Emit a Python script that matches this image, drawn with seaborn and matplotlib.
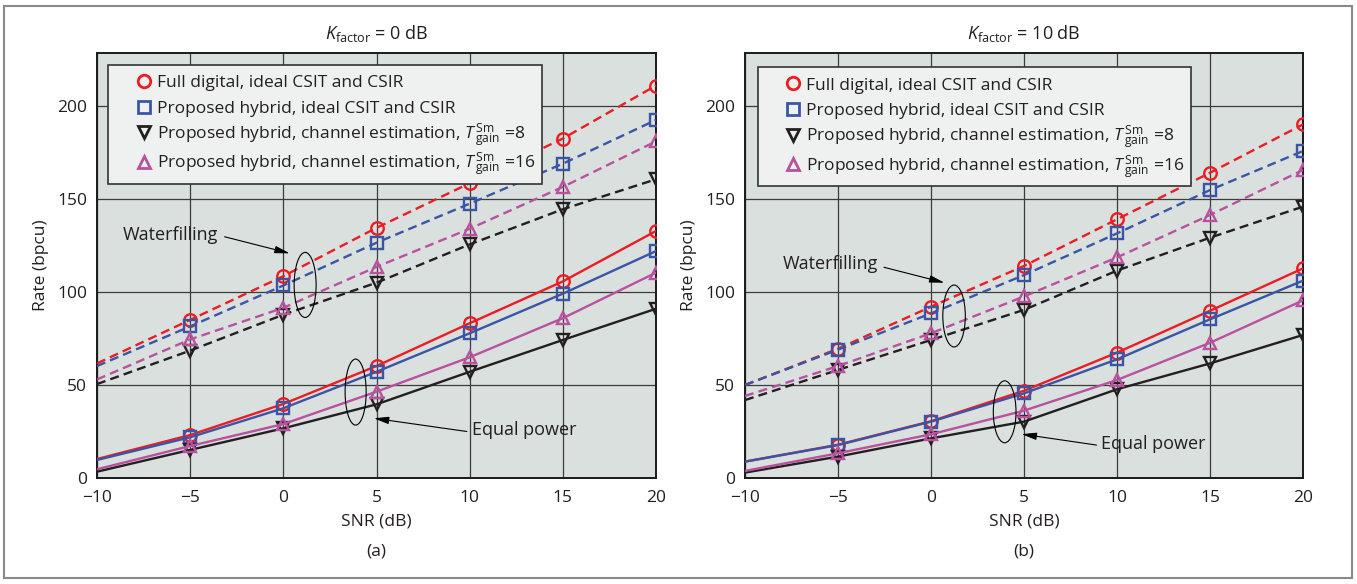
import numpy as np
import pandas as pd
import seaborn as sns
import matplotlib
matplotlib.use("Agg")
import matplotlib.pyplot as plt
from matplotlib.lines import Line2D
from matplotlib.patches import Ellipse, Rectangle
from matplotlib.legend_handler import HandlerBase

# ---------------- data ----------------
snr = [-10, -5, 0, 5, 10, 15, 20]

# K_factor = 0 dB
k0_wf_full = [61.6, 85.0, 108.5, 134.5, 158.5, 182.5, 211.0]
k0_wf_hyb = [60.2, 81.5, 103.5, 126.5, 147.5, 169.0, 192.5]
k0_wf_t8 = [50.5, 68.5, 87.8, 105.0, 125.6, 144.5, 160.6]
k0_wf_t16 = [53.0, 74.5, 91.5, 113.5, 134.0, 156.5, 181.0]
k0_ep_full = [10.2, 23.1, 39.8, 60.2, 83.2, 105.7, 132.8]
k0_ep_hyb = [9.7, 21.9, 37.5, 57.1, 77.8, 99.1, 122.0]
k0_ep_t8 = [3.4, 15.1, 26.7, 39.6, 57.1, 74.2, 91.0]
k0_ep_t16 = [4.7, 17.2, 29.0, 46.4, 64.9, 85.9, 110.4]

# K_factor = 10 dB
k10_wf_full = [50.0, 69.5, 92.1, 114.0, 139.1, 164.1, 190.1]
k10_wf_hyb = [50.0, 69.0, 88.5, 109.1, 131.5, 154.8, 175.8]
k10_wf_t8 = [41.9, 58.1, 74.2, 90.4, 111.5, 129.2, 145.9]
k10_wf_t16 = [44.1, 60.2, 77.8, 97.6, 118.6, 141.4, 165.6]
k10_ep_full = [8.8, 17.9, 30.5, 46.9, 67.4, 89.9, 112.7]
k10_ep_hyb = [8.8, 17.7, 30.3, 45.5, 63.8, 85.3, 106.1]
k10_ep_t8 = [2.9, 11.5, 21.3, 30.3, 47.7, 61.6, 76.9]
k10_ep_t16 = [3.8, 13.3, 23.5, 36.2, 52.7, 72.7, 95.5]

legend_labels = [
    "Full digital, ideal CSIT and CSIR",
    "Proposed hybrid, ideal CSIT and CSIR",
    r"Proposed hybrid, channel estimation, $T\,^{\mathrm{Sm}}_{\mathrm{gain}}$ =8",
    r"Proposed hybrid, channel estimation, $T\,^{\mathrm{Sm}}_{\mathrm{gain}}$ =16",
]
titles = [r"$K_{\mathrm{factor}}$ = 0 dB", r"$K_{\mathrm{factor}}$ = 10 dB"]
sublabels = ["(a)", "(b)"]
xticks = [-10, -5, 0, 5, 10, 15, 20]
xticklabels = ["\u221210", "\u22125", "0", "5", "10", "15", "20"]
yticks = [0, 50, 100, 150, 200]

# ---------------- style ----------------
sns.set_style("white")
FONT = "Open Sans"
plt.rcParams["font.family"] = [FONT, "DejaVu Sans"]
plt.rcParams["mathtext.fontset"] = "custom"
plt.rcParams["mathtext.rm"] = FONT
plt.rcParams["mathtext.it"] = FONT + ":italic"
plt.rcParams["mathtext.bf"] = FONT + ":bold"

colors = ["#ed1c24", "#3a55a6", "#231f20", "#b9519f"]
markers = ["o", "s", "v", "^"]
BG = "#d9e0de"
TXT = "#231f20"


class RightMarkerHandler(HandlerBase):
    """Legend handle: a single open marker placed near the text."""

    def create_artists(self, legend, orig_handle, xdescent, ydescent,
                       width, height, fontsize, trans):
        x = -xdescent + width - 0.45 * fontsize
        y = 0.36 * fontsize
        m = Line2D([x], [y], linestyle="none", marker=orig_handle.get_marker(),
                   markersize=orig_handle.get_markersize(),
                   markerfacecolor="none",
                   markeredgecolor=orig_handle.get_markeredgecolor(),
                   markeredgewidth=orig_handle.get_markeredgewidth())
        m.set_transform(trans)
        return [m]


fig = plt.figure(figsize=(13.57, 5.84), dpi=100)
fig.patches.append(Rectangle((4 / 1357, 6 / 584), 1348 / 1357, 572 / 584,
                             transform=fig.transFigure, fill=False,
                             edgecolor="#8a8a8a", lw=1.5, zorder=0))

ax_specs = [
    [97 / 1357, 1 - 478 / 584, 559 / 1357, 425 / 584],
    [745 / 1357, 1 - 478 / 584, 558 / 1357, 425 / 584],
]

panels = [
    dict(wf=[k0_wf_full, k0_wf_hyb, k0_wf_t8, k0_wf_t16],
         ep=[k0_ep_full, k0_ep_hyb, k0_ep_t8, k0_ep_t16],
         wf_text=(-8.6, 130.6), wf_tail=(-3.15, 129.7), wf_tip=(0.34, 120.8),
         wf_ell=(1.17, 103.8, 1.18, 35.0),
         ep_text=(10.13, 25.8), ep_tail=(9.85, 25.0), ep_tip=(4.86, 32.1),
         ep_ell=(3.88, 46.2, 1.13, 35.5),
         leg=(0.02, 0.972, 0.776)),
    dict(wf=[k10_wf_full, k10_wf_hyb, k10_wf_t8, k10_wf_t16],
         ep=[k10_ep_full, k10_ep_hyb, k10_ep_t8, k10_ep_t16],
         wf_text=(-7.97, 115.0), wf_tail=(-2.53, 113.3), wf_tip=(0.72, 105.0),
         wf_ell=(1.24, 87.1, 1.21, 33.3),
         ep_text=(9.12, 18.3), ep_tail=(8.9, 17.7), ep_tip=(4.87, 23.6),
         ep_ell=(3.96, 35.6, 1.22, 33.3),
         leg=(0.023, 0.967, 0.777)),
]

for i, p in enumerate(panels):
    ax = fig.add_axes(ax_specs[i])
    ax.set_facecolor(BG)
    for j in range(4):
        for series, ls in ((p["wf"][j], (0, (3.8, 2.2))), (p["ep"][j], "-")):
            sns.lineplot(x=snr, y=series, ax=ax, color=colors[j], lw=1.7,
                         marker=markers[j], markevery=list(range(1, 7)),
                         markersize=9, markerfacecolor="none",
                         markeredgecolor=colors[j], markeredgewidth=1.7,
                         zorder=3, legend=False)
            ax.lines[-1].set_linestyle(ls)
    ax.set_xlim(-10, 20)
    ax.set_ylim(0, 228.5)
    ax.set_xticks(xticks)
    ax.set_yticks(yticks)
    ax.set_xticklabels(xticklabels)
    ax.grid(True, color="#3c3c3c", lw=0.9, zorder=1)
    ax.set_axisbelow(True)
    for s in ax.spines.values():
        s.set_color("#1a1a1a")
        s.set_linewidth(1.4)
    ax.tick_params(direction="in", length=4, labelsize=12.5, colors=TXT)
    ax.tick_params(axis="x", pad=9)
    ax.tick_params(axis="y", pad=7)
    ax.set_xlabel("SNR (dB)", fontsize=12.5, color=TXT, labelpad=5)
    ax.set_ylabel("Rate (bpcu)", fontsize=12.5, color=TXT, labelpad=6)
    ax.set_title(titles[i], fontsize=13, color=TXT, pad=10)
    ax.text(0.5, -0.172, sublabels[i], transform=ax.transAxes, ha="center",
            va="center", fontsize=12.5, color=TXT)

    # annotations
    ax.text(*p["wf_text"], "Waterfilling", fontsize=13, ha="left",
            va="center", color=TXT, zorder=5)
    ax.annotate("", xy=p["wf_tip"], xytext=p["wf_tail"],
                arrowprops=dict(arrowstyle="-|>,head_length=0.9,head_width=0.22",
                                color="black", lw=0.8, shrinkA=0, shrinkB=0),
                zorder=5)
    ax.text(*p["ep_text"], "Equal power", fontsize=13, ha="left",
            va="center", color=TXT, zorder=5)
    ax.annotate("", xy=p["ep_tip"], xytext=p["ep_tail"],
                arrowprops=dict(arrowstyle="-|>,head_length=0.9,head_width=0.22",
                                color="black", lw=0.8, shrinkA=0, shrinkB=0),
                zorder=5)
    for key in ("wf_ell", "ep_ell"):
        cx, cy, w, h = p[key]
        ax.add_patch(Ellipse((cx, cy), w, h, fill=False, edgecolor="black",
                             lw=0.8, zorder=4))

    handles = [Line2D([], [], linestyle="none", marker=markers[j], markersize=9,
                      markerfacecolor="none", markeredgecolor=colors[j],
                      markeredgewidth=2.0) for j in range(4)]
    lx, ly, lw_ = p["leg"]
    leg = ax.legend(handles, legend_labels, loc="upper left",
                    bbox_to_anchor=(lx, ly - 0.29, lw_, 0.29), mode="expand",
                    fontsize=12.5, frameon=True, fancybox=False, framealpha=1,
                    facecolor="#eef1f0", edgecolor="#333333",
                    handlelength=2.2, handleheight=1.7, handletextpad=0.3,
                    labelspacing=0.12, borderpad=0.3, borderaxespad=0,
                    handler_map={Line2D: RightMarkerHandler()})
    leg.get_frame().set_linewidth(1.2)
    leg.set_zorder(10)
    for t in leg.get_texts():
        t.set_color(TXT)

fig.savefig("out.png", dpi=100, facecolor="white")
